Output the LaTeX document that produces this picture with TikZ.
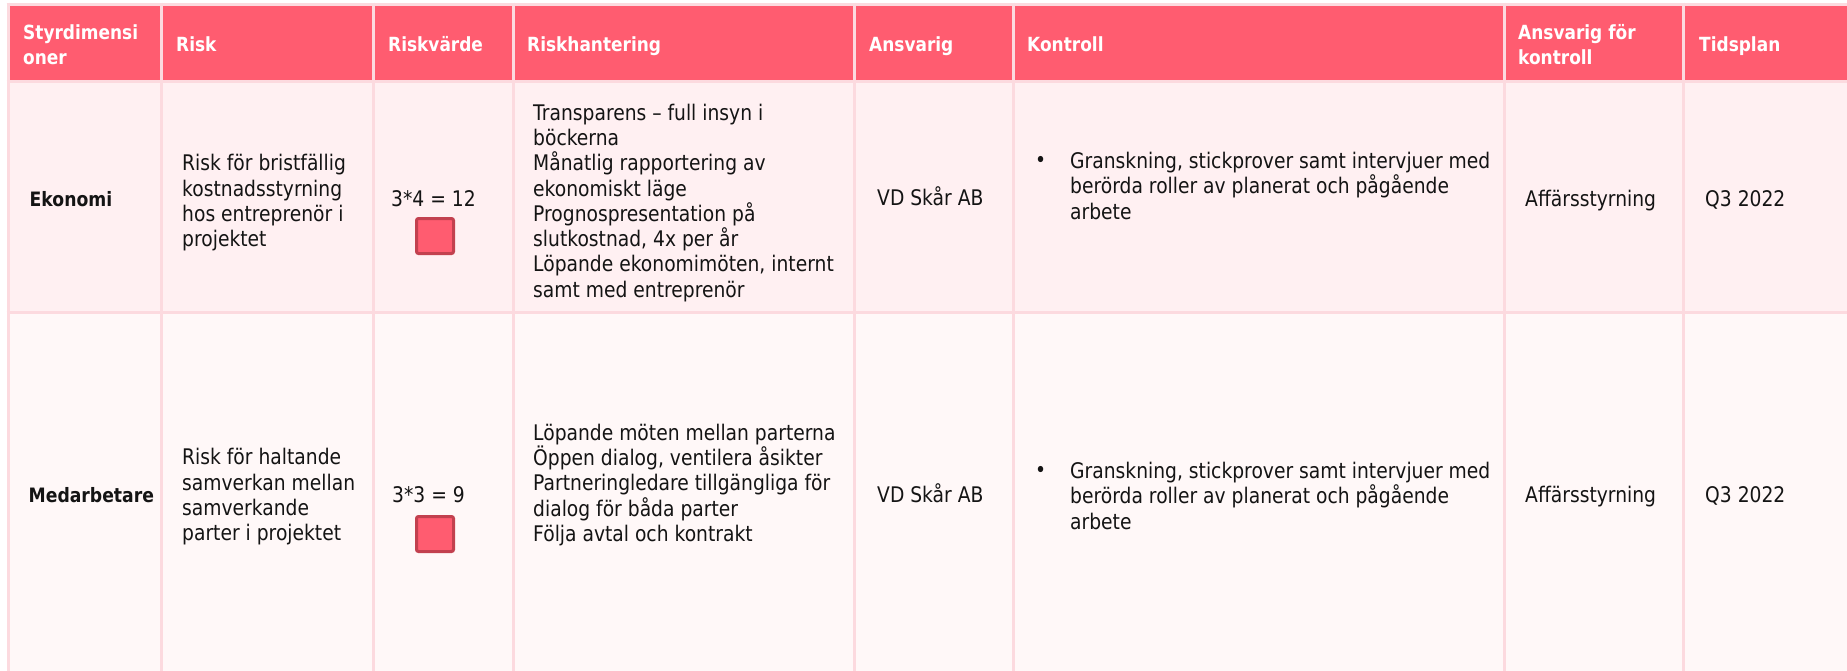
\documentclass[tikz,border=0pt]{standalone}
\usepackage{fontspec}
\setmainfont{DejaVu Sans}[FakeStretch=0.87]
\definecolor{hdrred}{HTML}{FF5C70}
\definecolor{boxdark}{HTML}{C2414F}
\definecolor{gridpink}{HTML}{FCDADF}
\definecolor{rowa}{HTML}{FFF0F2}
\definecolor{rowb}{HTML}{FFF8F8}
\definecolor{txt}{HTML}{141414}
\newcommand{\st}{\rule[-0.22em]{0pt}{1.16em}}
\begin{document}
\begin{tikzpicture}[x=1pt,y=-1pt,
  hdr/.style={anchor=west, font=\fontsize{19.5}{25}\selectfont\bfseries, text=white, inner sep=0pt, align=left},
  body/.style={anchor=west, font=\fontsize{21.5}{25.3}\selectfont, text=txt, inner sep=0pt, align=left},
  lbl/.style={anchor=west, font=\fontsize{19.8}{25}\selectfont\bfseries, text=txt, inner sep=0pt, align=left},
  riskbox/.style={draw=boxdark, fill=hdrred, line width=3pt, rounded corners=2pt, minimum width=37pt, minimum height=35pt, inner sep=0pt},
  gridline/.style={draw=gridpink, line width=3pt}]
\useasboundingbox (0,0) rectangle (1847,670);
\clip (0,0) rectangle (1847,670);
\fill[white] (0,0) rectangle (1847,670);
% cell fills
\fill[hdrred] (8,4) rectangle (1860,81);
\fill[rowa] (8,81) rectangle (1860,312);
\fill[rowb] (8,312) rectangle (1860,700);
% grid
\foreach \y in {4,81,312} \draw[gridline] (6.5,\y) -- (1860,\y);
\foreach \x in {8,161,373,513,854,1013,1504,1683} \draw[gridline] (\x,2.5) -- (\x,700);
% header
\node[hdr] (h1) at (23,44.5) {\st Styrdimensi\\\st oner};
\node[hdr] (h2) at (176,44) {\st Risk};
\node[hdr] (h3) at (388,44) {\st Riskvärde};
\node[hdr] (h4) at (527,44) {\st Riskhantering};
\node[hdr] (h5) at (869,44) {\st Ansvarig};
\node[hdr] (h6) at (1027,44) {\st Kontroll};
\node[hdr] (h7) at (1518,44.5) {\st Ansvarig för\\\st kontroll};
\node[hdr] (h8) at (1699,44) {\st Tidsplan};
% row 1
\node[lbl] (e1) at (29.5,199) {\st Ekonomi};
\node[body] (r1) at (182,201) {\st Risk för bristfällig\\\st kostnadsstyrning\\\st hos entreprenör i\\\st projektet};
\node[body] (v1) at (391,199) {\st 3*4 = 12};
\node[riskbox] (b1) at (435,236) {};
\node[body] (k1) at (533,201) {\st Transparens – full insyn i\\\st böckerna\\\st Månatlig rapportering av\\\st ekonomiskt läge\\\st Prognospresentation på\\\st slutkostnad, 4x per år\\\st Löpande ekonomimöten, internt\\\st samt med entreprenör};
\node[body] (a1) at (877,198) {\st VD Skår AB};
\node[body] (cb1) at (1035,160) {\st •};
\node[body] (ct1) at (1070,186) {\st Granskning, stickprover samt intervjuer med\\\st berörda roller av planerat och pågående\\\st arbete};
\node[body] (f1) at (1525,199) {\st Affärsstyrning};
\node[body] (t1) at (1705,199) {\st Q3 2022};
% row 2
\node[lbl] (e2) at (28.5,495) {\st Medarbetare};
\node[body] (r2) at (182,495) {\st Risk för haltande\\\st samverkan mellan\\\st samverkande\\\st parter i projektet};
\node[body] (v2) at (392,495) {\st 3*3 = 9};
\node[riskbox] (b2) at (435,534) {};
\node[body] (k2) at (533,483) {\st Löpande möten mellan parterna\\\st Öppen dialog, ventilera åsikter\\\st Partneringledare tillgängliga för\\\st dialog för båda parter\\\st Följa avtal och kontrakt};
\node[body] (a2) at (877,495) {\st VD Skår AB};
\node[body] (cb2) at (1035,470) {\st •};
\node[body] (ct2) at (1070,496) {\st Granskning, stickprover samt intervjuer med\\\st berörda roller av planerat och pågående\\\st arbete};
\node[body] (f2) at (1525,495) {\st Affärsstyrning};
\node[body] (t2) at (1705,495) {\st Q3 2022};
\end{tikzpicture}
\end{document}
